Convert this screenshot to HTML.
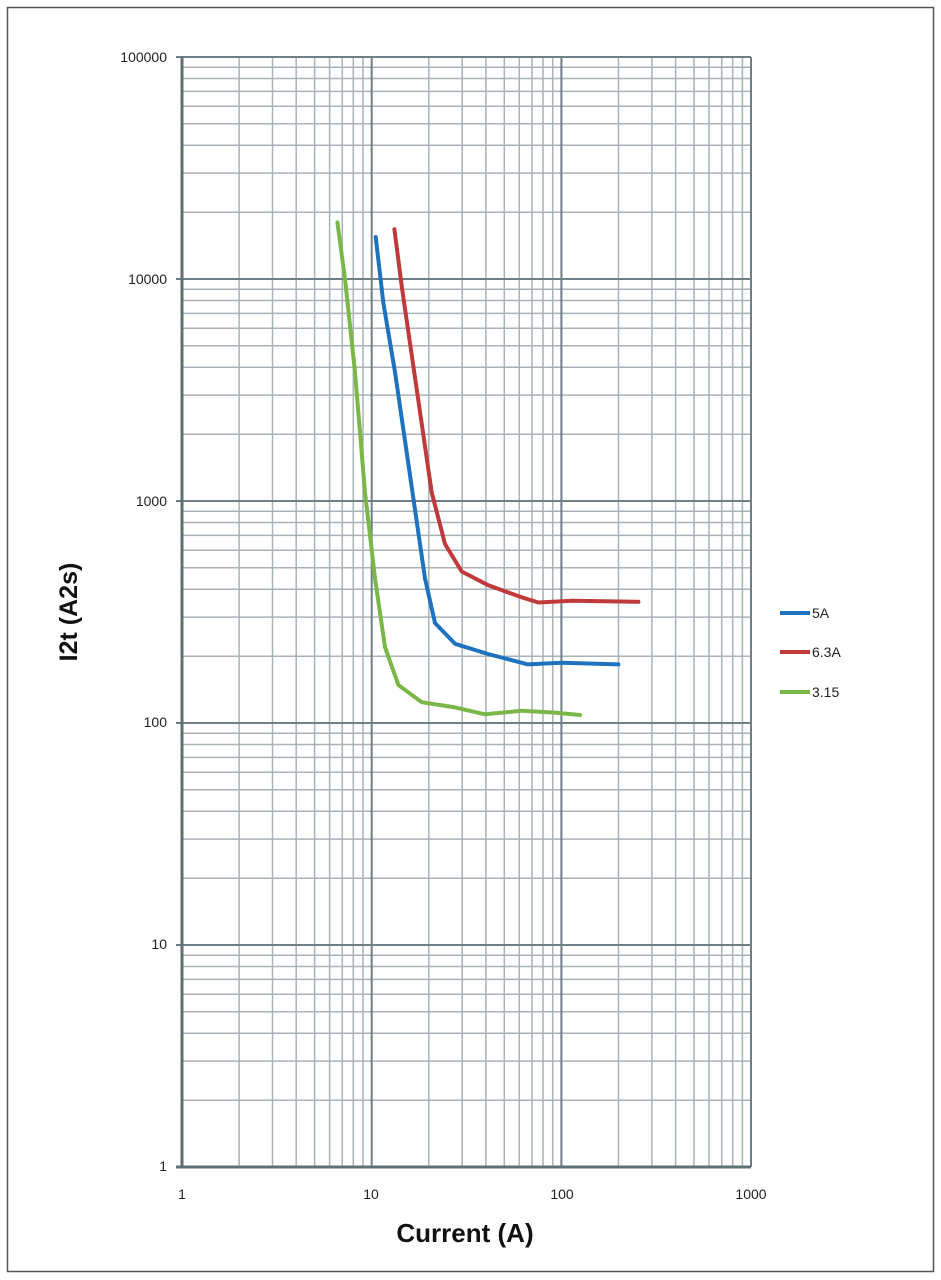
<!DOCTYPE html>
<html><head><meta charset="utf-8"><style>body{margin:0;background:#fff}svg{display:block}</style></head><body>
<svg width="941" height="1280" xmlns="http://www.w3.org/2000/svg" font-family="Liberation Sans, sans-serif">
<rect x="0" y="0" width="941" height="1280" fill="#fff"/>
<rect x="7.5" y="7.5" width="926" height="1264" fill="none" stroke="#555" stroke-width="1.5"/>
<g stroke="#a9b2b7" stroke-width="1.5">
<line x1="239.1" y1="57" x2="239.1" y2="1167"/><line x1="272.5" y1="57" x2="272.5" y2="1167"/><line x1="296.2" y1="57" x2="296.2" y2="1167"/><line x1="314.6" y1="57" x2="314.6" y2="1167"/><line x1="329.6" y1="57" x2="329.6" y2="1167"/><line x1="342.3" y1="57" x2="342.3" y2="1167"/><line x1="353.3" y1="57" x2="353.3" y2="1167"/><line x1="363" y1="57" x2="363" y2="1167"/>
<line x1="428.8" y1="57" x2="428.8" y2="1167"/><line x1="462.2" y1="57" x2="462.2" y2="1167"/><line x1="485.9" y1="57" x2="485.9" y2="1167"/><line x1="504.3" y1="57" x2="504.3" y2="1167"/><line x1="519.3" y1="57" x2="519.3" y2="1167"/><line x1="532" y1="57" x2="532" y2="1167"/><line x1="543" y1="57" x2="543" y2="1167"/><line x1="552.7" y1="57" x2="552.7" y2="1167"/>
<line x1="618.5" y1="57" x2="618.5" y2="1167"/><line x1="651.9" y1="57" x2="651.9" y2="1167"/><line x1="675.6" y1="57" x2="675.6" y2="1167"/><line x1="694" y1="57" x2="694" y2="1167"/><line x1="709" y1="57" x2="709" y2="1167"/><line x1="721.7" y1="57" x2="721.7" y2="1167"/><line x1="732.7" y1="57" x2="732.7" y2="1167"/><line x1="742.4" y1="57" x2="742.4" y2="1167"/>
<line x1="182" y1="1100.2" x2="751" y2="1100.2"/><line x1="182" y1="1061.1" x2="751" y2="1061.1"/><line x1="182" y1="1033.3" x2="751" y2="1033.3"/><line x1="182" y1="1011.8" x2="751" y2="1011.8"/><line x1="182" y1="994.2" x2="751" y2="994.2"/><line x1="182" y1="979.4" x2="751" y2="979.4"/><line x1="182" y1="966.5" x2="751" y2="966.5"/><line x1="182" y1="955.3" x2="751" y2="955.3"/>
<line x1="182" y1="878.2" x2="751" y2="878.2"/><line x1="182" y1="839.1" x2="751" y2="839.1"/><line x1="182" y1="811.3" x2="751" y2="811.3"/><line x1="182" y1="789.8" x2="751" y2="789.8"/><line x1="182" y1="772.2" x2="751" y2="772.2"/><line x1="182" y1="757.4" x2="751" y2="757.4"/><line x1="182" y1="744.5" x2="751" y2="744.5"/><line x1="182" y1="733.3" x2="751" y2="733.3"/>
<line x1="182" y1="656.2" x2="751" y2="656.2"/><line x1="182" y1="617.1" x2="751" y2="617.1"/><line x1="182" y1="589.3" x2="751" y2="589.3"/><line x1="182" y1="567.8" x2="751" y2="567.8"/><line x1="182" y1="550.2" x2="751" y2="550.2"/><line x1="182" y1="535.4" x2="751" y2="535.4"/><line x1="182" y1="522.5" x2="751" y2="522.5"/><line x1="182" y1="511.3" x2="751" y2="511.3"/>
<line x1="182" y1="434.2" x2="751" y2="434.2"/><line x1="182" y1="395.1" x2="751" y2="395.1"/><line x1="182" y1="367.3" x2="751" y2="367.3"/><line x1="182" y1="345.8" x2="751" y2="345.8"/><line x1="182" y1="328.2" x2="751" y2="328.2"/><line x1="182" y1="313.4" x2="751" y2="313.4"/><line x1="182" y1="300.5" x2="751" y2="300.5"/><line x1="182" y1="289.3" x2="751" y2="289.3"/>
<line x1="182" y1="212.2" x2="751" y2="212.2"/><line x1="182" y1="173.1" x2="751" y2="173.1"/><line x1="182" y1="145.3" x2="751" y2="145.3"/><line x1="182" y1="123.8" x2="751" y2="123.8"/><line x1="182" y1="106.2" x2="751" y2="106.2"/><line x1="182" y1="91.4" x2="751" y2="91.4"/><line x1="182" y1="78.5" x2="751" y2="78.5"/><line x1="182" y1="67.3" x2="751" y2="67.3"/>
</g>
<g stroke="#6f7f86" stroke-width="2">
<line x1="371.7" y1="57" x2="371.7" y2="1167"/><line x1="561.4" y1="57" x2="561.4" y2="1167"/><line x1="751" y1="57" x2="751" y2="1167"/>
<line x1="176" y1="57" x2="751" y2="57"/><line x1="176" y1="279" x2="751" y2="279"/><line x1="176" y1="501" x2="751" y2="501"/><line x1="176" y1="723" x2="751" y2="723"/><line x1="176" y1="945" x2="751" y2="945"/>
</g>
<g stroke="#5e7077" stroke-width="3">
<line x1="182" y1="57" x2="182" y2="1167"/><line x1="176" y1="1167" x2="751" y2="1167"/>
</g>
<g font-size="14" fill="#222" text-anchor="end">
<text x="167" y="62">100000</text><text x="167" y="284">10000</text><text x="167" y="506">1000</text>
<text x="167" y="727">100</text><text x="167" y="949">10</text><text x="167" y="1171">1</text>
</g>
<g font-size="14" fill="#222" text-anchor="middle">
<text x="182" y="1199">1</text><text x="371" y="1199">10</text><text x="562" y="1199">100</text><text x="751" y="1199">1000</text>
</g>
<text x="465" y="1242" font-size="26" font-weight="bold" text-anchor="middle" fill="#111">Current (A)</text>
<text transform="translate(77,612) rotate(-90)" font-size="25" font-weight="bold" text-anchor="middle" fill="#111">I2t (A2s)</text>
<g fill="none" stroke-width="4" stroke-linecap="round" stroke-linejoin="round">
<polyline stroke="#7ab648" points="337.4,222.4 345,279 355,372 365,492.4 375,578.4 385,647.2 398.4,685 421.7,702.2 455,707.4 485,714.3 521.7,710.8 555,712.6 580,715"/>
<polyline stroke="#1f72c0" points="375.7,237 383.4,303.2 395,372 405,440.8 415,509.6 425,578.4 435,623 455,643.8 488,654 528,664.4 561.7,662.7 618.4,664.4"/>
<polyline stroke="#c0393b" points="394.4,229.2 401.7,286 411.7,354.8 421.7,423.6 431.7,492.4 445,544 461.7,571.5 488.4,585.3 521.7,597.3 538.4,602.5 571.7,600.8 638.4,601.8"/>
</g>
<g stroke-width="4">
<line x1="780" y1="613" x2="810" y2="613" stroke="#1f72c0"/>
<line x1="780" y1="652" x2="810" y2="652" stroke="#c0393b"/>
<line x1="780" y1="692" x2="810" y2="692" stroke="#7ab648"/>
</g>
<g font-size="14" fill="#222">
<text x="812" y="618">5A</text><text x="812" y="657">6.3A</text><text x="812" y="697">3.15</text>
</g>
</svg>
</body></html>
